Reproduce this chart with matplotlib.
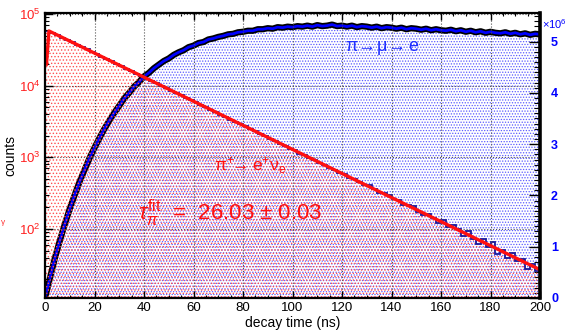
import numpy as np
import matplotlib.pyplot as plt
from matplotlib.ticker import MultipleLocator, LogLocator, NullFormatter

plt.rcParams['font.family'] = ['Liberation Sans', 'DejaVu Sans']
plt.rcParams['mathtext.fontset'] = 'custom'
plt.rcParams['mathtext.rm'] = 'Liberation Sans'
plt.rcParams['mathtext.it'] = 'Liberation Sans:italic'
plt.rcParams['mathtext.bf'] = 'Liberation Sans:bold'
plt.rcParams['hatch.linewidth'] = 0.6

# pi -> mu -> e spectrum (right axis, units of 10^6), 2 ns steps
mue_t = np.arange(0, 201, 2)
mue_n = [0.00, 0.39, 0.78, 1.12, 1.44, 1.74, 2.01, 2.27, 2.50, 2.73,
         2.93, 3.12, 3.30, 3.46, 3.61, 3.75, 3.89, 4.00, 4.12, 4.21,
         4.32, 4.39, 4.48, 4.55, 4.62, 4.67, 4.74, 4.79, 4.83, 4.89,
         4.92, 4.97, 4.99, 5.04, 5.06, 5.09, 5.11, 5.14, 5.15, 5.18,
         5.19, 5.21, 5.21, 5.24, 5.24, 5.26, 5.25, 5.28, 5.27, 5.29,
         5.28, 5.30, 5.29, 5.31, 5.29, 5.32, 5.30, 5.31, 5.33, 5.30,
         5.31, 5.29, 5.31, 5.28, 5.30, 5.29, 5.27, 5.29, 5.26, 5.28,
         5.27, 5.25, 5.27, 5.24, 5.26, 5.25, 5.23, 5.25, 5.22, 5.24,
         5.22, 5.21, 5.23, 5.20, 5.22, 5.19, 5.21, 5.18, 5.20, 5.17,
         5.19, 5.17, 5.16, 5.18, 5.15, 5.17, 5.14, 5.16, 5.13, 5.15,
         5.14]

# pi -> e nu spectrum (left axis, counts), 2 ns bins
enu_edges = np.arange(0, 201, 2)
enu_n = [57000, 54800, 51100, 46900, 43700, 40200, 37400, 34400, 32100, 29500,
         27300, 25400, 23300, 21800, 20000, 18650, 17150, 15950, 14700, 13680,
         12580, 11700, 10840, 9960, 9300, 8520, 7960, 7310, 6820, 6240,
         5860, 5350, 5010, 4590, 4290, 3930, 3680, 3360, 3150, 2880,
         2700, 2460, 2320, 2110, 1985, 1800, 1705, 1545, 1460, 1320,
         1250, 1130, 1075, 965, 920, 830, 790, 712, 674, 606,
         584, 519, 506, 449, 407, 405, 364, 320, 317, 299,
         259, 254, 215, 213, 208, 174, 156, 162, 143, 123,
         132, 108, 115, 99, 79, 93, 73, 61, 72, 56,
         65, 45, 51, 40, 46, 36, 38, 28, 32, 26]

# fit curve
fit_t = [0.6, 1.6, 200]
fit_n = [2.0e4, 5.8e4, 27]

xticks = [0, 20, 40, 60, 80, 100, 120, 140, 160, 180, 200]
rticks = [0, 1, 2, 3, 4, 5]

fig = plt.figure(figsize=(5.7, 3.31), dpi=100)
ax = fig.add_axes([45/570, 33/331, 495/570, 285/331])
ax2 = ax.twinx()
ax.set_zorder(ax2.get_zorder() + 1)
ax.patch.set_visible(False)

# right axis: pi -> mu -> e
ax2.fill_between(mue_t, mue_n, 0, facecolor='none', edgecolor='#5a5aff',
                 hatch='......', lw=0)
ax2.plot(mue_t, mue_n, color='black', lw=4.5, solid_capstyle='butt')
ax2.plot(mue_t, mue_n, color='#0000ff', lw=2)
ax2.set_ylim(0, 5.556)
ax2.set_yticks(rticks)
ax2.yaxis.set_minor_locator(MultipleLocator(0.1))
ax2.tick_params(axis='y', which='major', direction='in', length=8, width=1,
                labelcolor='#0000ff', labelsize=9, pad=8)
ax2.tick_params(axis='y', which='minor', direction='in', length=4, width=0.8)
for lab in ax2.get_yticklabels():
    lab.set_fontweight('bold')
for s in ax2.spines.values():
    s.set_visible(False)

# left axis: pi -> e nu
edges_x = np.repeat(enu_edges, 2)[1:-1]
vals_y = np.repeat(enu_n, 2)
ax.fill_between(edges_x, vals_y, 1, facecolor='none', edgecolor='#ff5050',
                hatch='.....', lw=0)
ax.stairs(enu_n, enu_edges, color='#1a1a9a', lw=1.3, baseline=None)
ax.plot(fit_t, fit_n, color='#ff1010', lw=2.4)

ax.set_yscale('log')
ax.set_xlim(0, 200)
ax.set_ylim(10**1.037, 10**5.014)
ax.set_xticks(xticks)
ax.xaxis.set_minor_locator(MultipleLocator(5))
ax.yaxis.set_major_locator(LogLocator(base=10, numticks=10))
ax.yaxis.set_minor_locator(LogLocator(base=10, subs=np.arange(2, 10), numticks=10))
ax.yaxis.set_minor_formatter(NullFormatter())
ax.grid(True, which='major', ls=':', color='#555555', lw=0.8)
ax.tick_params(axis='x', which='major', direction='in', length=5, width=1,
               top=True, labelsize=9.5, pad=3)
ax.tick_params(axis='x', which='minor', direction='in', length=2.5, width=0.8, top=True)
ax.tick_params(axis='y', which='major', direction='in', length=6, width=1,
               labelcolor='#ff2020', labelsize=9.5, pad=3)
ax.tick_params(axis='y', which='minor', direction='in', length=3, width=0.8)
ax.spines['left'].set_linewidth(1.6)
ax.spines['bottom'].set_linewidth(1.6)
ax.spines['top'].set_linewidth(1.6)
ax.spines['right'].set_linewidth(2.6)

ax.set_xlabel('decay time (ns)', fontsize=10, labelpad=1)
ax.set_ylabel('counts', fontsize=10, labelpad=1)

fig.text(542/570, 1 - 24/331, r'$\times10^{6}$', color='#0000ff', fontsize=8,
         fontweight='bold', va='center', ha='left')
fig.text(345/570, 1 - 48/331,
         r'$\mathrm{\pi}\!\rightarrow\!\mathrm{\mu}\!\rightarrow \mathrm{e}$',
         color='#2030ff', fontsize=13, va='center', ha='left')
fig.text(214/570, 1 - 166/331,
         r'$\mathrm{\pi}^{+}\!\!\rightarrow \mathrm{e}^{+}\mathrm{\nu}_{\mathrm{e}}$',
         color='#ff1010', fontsize=12.5, va='center', ha='left')
fig.text(138/570, 1 - 213/331, r'$\tau_{\pi}^{\mathrm{fit}}$  =  26.03 $\pm$ 0.03',
         color='#ff1010', fontsize=16, va='center', ha='left')
fig.text(1/570, 1 - 222/331, 'γ', color='#ff3030', fontsize=6, va='center', ha='left')

fig.savefig('out.png', dpi=100)
